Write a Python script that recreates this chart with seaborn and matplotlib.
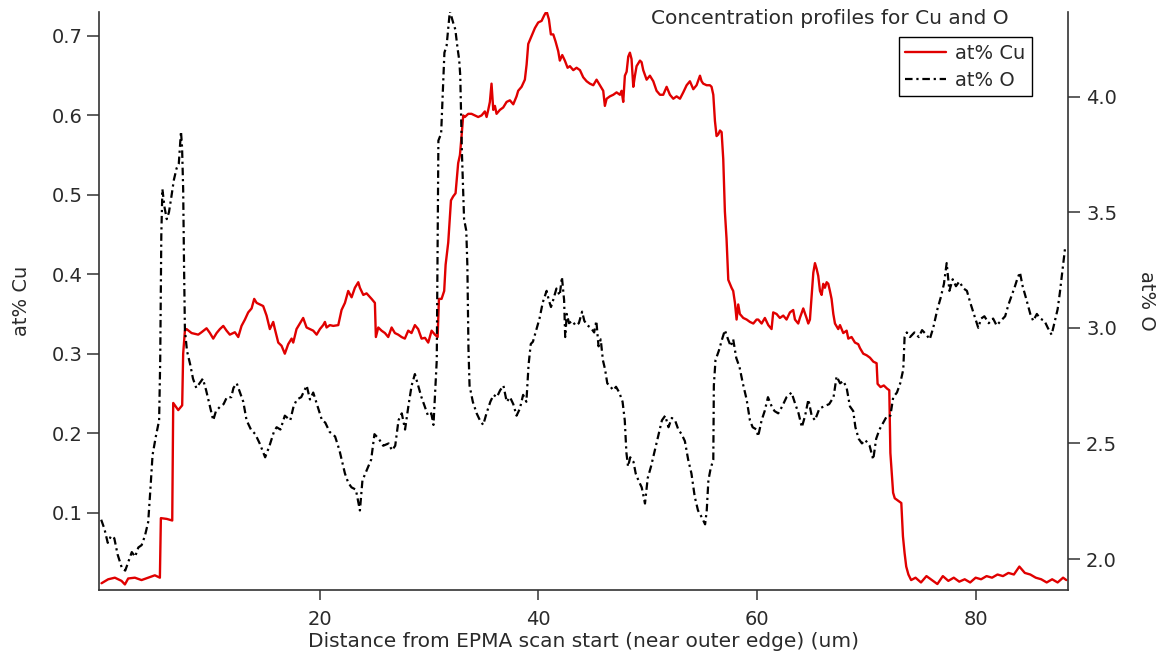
import matplotlib
matplotlib.use("Agg")
import matplotlib.pyplot as plt
import seaborn as sns
import pandas as pd
from matplotlib.ticker import FormatStrFormatter

# ---------------- data ----------------
cu_x = [0.03, 0.64, 1.25, 1.86, 2.17, 2.47, 3.08, 3.69, 4.3, 4.91, 5.37, 5.46, 6.0, 6.5,
        6.59, 7.05, 7.41, 7.5, 7.66, 7.81, 8.27, 8.88, 9.18, 9.64, 9.95, 10.25, 10.56,
        10.86, 11.17, 11.47, 11.77, 12.23, 12.54, 12.84, 13.15, 13.45, 13.76, 14.0, 14.22,
        14.52, 14.82, 15.13, 15.43, 15.74, 15.89, 16.2, 16.5, 16.8, 17.11, 17.42, 17.57,
        17.87, 18.18, 18.48, 18.79, 19.09, 19.4, 19.71, 20.01, 20.31, 20.47, 20.62, 20.92,
        21.23, 21.69, 21.99, 22.3, 22.6, 22.91, 23.21, 23.52, 23.67, 23.98, 24.28, 24.74,
        25.04, 25.13, 25.35, 25.65, 25.96, 26.26, 26.57, 26.87, 27.17, 27.48, 27.78, 28.09,
        28.39, 28.7, 29.0, 29.31, 29.62, 29.92, 30.23, 30.53, 30.78, 30.9, 31.14, 31.38,
        31.51, 31.75, 32.0, 32.2, 32.42, 32.66, 32.82, 32.97, 33.12, 33.27, 33.58, 33.88,
        34.19, 34.49, 34.8, 35.1, 35.26, 35.41, 35.56, 35.71, 35.87, 36.02, 36.17, 36.48,
        36.78, 37.09, 37.39, 37.7, 38.0, 38.15, 38.46, 38.76, 38.92, 39.07, 39.37, 39.68,
        39.98, 40.29, 40.53, 40.75, 40.96, 41.14, 41.36, 41.57, 41.81, 41.96, 42.18, 42.42,
        42.67, 42.88, 43.19, 43.49, 43.8, 44.1, 44.41, 44.71, 45.02, 45.32, 45.63, 45.93,
        46.08, 46.24, 46.54, 46.85, 47.15, 47.46, 47.61, 47.76, 47.91, 48.07, 48.22, 48.37,
        48.52, 48.68, 48.83, 48.98, 49.29, 49.44, 49.59, 49.9, 50.2, 50.51, 50.81, 51.12,
        51.42, 51.73, 52.03, 52.34, 52.64, 52.95, 53.25, 53.56, 53.86, 54.17, 54.47, 54.78,
        54.93, 55.08, 55.39, 55.69, 55.84, 56.0, 56.15, 56.3, 56.45, 56.61, 56.76, 56.91,
        57.06, 57.21, 57.37, 57.52, 57.67, 57.82, 57.98, 58.13, 58.28, 58.43, 58.74, 59.05,
        59.35, 59.66, 59.96, 60.11, 60.42, 60.72, 61.03, 61.33, 61.48, 61.79, 62.09, 62.4,
        62.7, 63.01, 63.31, 63.47, 63.77, 63.92, 64.23, 64.53, 64.69, 64.84, 65.0, 65.15,
        65.3, 65.45, 65.6, 65.76, 65.91, 66.06, 66.21, 66.37, 66.52, 66.67, 66.82, 66.98,
        67.13, 67.43, 67.59, 67.89, 68.2, 68.35, 68.65, 68.96, 69.26, 69.42, 69.72, 70.03,
        70.33, 70.64, 70.94, 71.03, 71.3, 71.6, 71.9, 72.1, 72.2, 72.45, 72.6, 72.9, 73.2,
        73.35, 73.5, 73.65, 73.85, 74.1, 74.5, 75.0, 75.5, 76.0, 76.5, 77.0, 77.5, 78.0,
        78.5, 79.0, 79.5, 80.0, 80.5, 81.0, 81.5, 82.0, 82.5, 83.0, 83.5, 84.0, 84.5, 85.0,
        85.5, 86.0, 86.5, 87.0, 87.5, 88.0, 88.3]
cu_at = [0.011, 0.016, 0.018, 0.014, 0.0095, 0.017, 0.018, 0.015, 0.018, 0.021, 0.018, 0.093,
         0.092, 0.090, 0.238, 0.229, 0.235, 0.300, 0.329, 0.331, 0.326, 0.324, 0.327, 0.332,
         0.326, 0.319, 0.326, 0.331, 0.335, 0.329, 0.324, 0.327, 0.321, 0.335, 0.343, 0.352,
         0.357, 0.369, 0.364, 0.362, 0.360, 0.348, 0.331, 0.340, 0.331, 0.314, 0.310, 0.300,
         0.312, 0.319, 0.314, 0.331, 0.338, 0.345, 0.333, 0.331, 0.329, 0.324, 0.331, 0.336,
         0.340, 0.333, 0.336, 0.335, 0.336, 0.355, 0.364, 0.379, 0.371, 0.383, 0.390, 0.383,
         0.374, 0.376, 0.369, 0.364, 0.321, 0.333, 0.329, 0.326, 0.321, 0.333, 0.326, 0.324,
         0.321, 0.319, 0.329, 0.326, 0.336, 0.331, 0.319, 0.320, 0.314, 0.329, 0.324, 0.321,
         0.369, 0.369, 0.379, 0.412, 0.440, 0.493, 0.498, 0.502, 0.540, 0.550, 0.574, 0.600,
         0.598, 0.602, 0.602, 0.600, 0.598, 0.600, 0.605, 0.598, 0.607, 0.617, 0.640, 0.607,
         0.612, 0.602, 0.607, 0.610, 0.617, 0.619, 0.614, 0.624, 0.631, 0.636, 0.645, 0.664,
         0.690, 0.700, 0.710, 0.717, 0.719, 0.726, 0.731, 0.721, 0.702, 0.702, 0.693, 0.681,
         0.669, 0.676, 0.669, 0.660, 0.662, 0.657, 0.660, 0.657, 0.648, 0.643, 0.640, 0.638,
         0.645, 0.638, 0.631, 0.612, 0.621, 0.624, 0.626, 0.629, 0.626, 0.631, 0.617, 0.650,
         0.655, 0.674, 0.679, 0.671, 0.636, 0.650, 0.662, 0.669, 0.667, 0.657, 0.645, 0.650,
         0.643, 0.631, 0.626, 0.626, 0.636, 0.626, 0.621, 0.624, 0.621, 0.629, 0.638, 0.643,
         0.633, 0.638, 0.650, 0.643, 0.640, 0.638, 0.638, 0.636, 0.626, 0.593, 0.574, 0.576,
         0.581, 0.579, 0.545, 0.479, 0.445, 0.393, 0.388, 0.383, 0.379, 0.364, 0.343, 0.362,
         0.350, 0.345, 0.343, 0.340, 0.338, 0.343, 0.343, 0.338, 0.345, 0.336, 0.331, 0.352,
         0.350, 0.345, 0.348, 0.343, 0.352, 0.355, 0.343, 0.338, 0.345, 0.357, 0.345, 0.338,
         0.343, 0.374, 0.402, 0.414, 0.407, 0.398, 0.379, 0.374, 0.388, 0.383, 0.390, 0.388,
         0.379, 0.369, 0.350, 0.338, 0.331, 0.336, 0.326, 0.329, 0.319, 0.321, 0.314, 0.312,
         0.307, 0.300, 0.298, 0.295, 0.290, 0.288, 0.262, 0.258, 0.260, 0.256, 0.254, 0.175,
         0.125, 0.118, 0.115, 0.112, 0.070, 0.049, 0.032, 0.022, 0.015, 0.018, 0.012, 0.020,
         0.015, 0.010, 0.020, 0.014, 0.018, 0.013, 0.016, 0.012, 0.018, 0.016, 0.020, 0.018,
         0.022, 0.020, 0.024, 0.022, 0.032, 0.024, 0.022, 0.018, 0.016, 0.012, 0.016, 0.012,
         0.018, 0.015]

o_x = [0.0, 0.3, 0.6, 0.9, 1.2, 1.5, 1.9, 2.2, 2.5, 2.8, 3.1, 3.4, 3.7, 4.0, 4.3, 4.5, 4.7,
       5.0, 5.3, 5.4, 5.5, 5.6, 5.8, 6.0, 6.2, 6.4, 6.65, 6.9, 7.1, 7.3, 7.4, 7.5, 7.58,
       7.66, 7.85, 8.15, 8.4, 8.7, 9.0, 9.3, 9.6, 9.95, 10.25, 10.5, 10.9, 11.2, 11.5, 11.9,
       12.1, 12.4, 12.7, 13.0, 13.3, 13.7, 14.1, 14.5, 15.0, 15.4, 15.8, 16.05, 16.4, 16.8,
       17.3, 17.6, 17.9, 18.3, 18.8, 19.1, 19.4, 19.8, 20.2, 20.5, 20.9, 21.4, 21.8, 22.3,
       22.6, 22.9, 23.3, 23.67, 23.9, 24.3, 24.7, 25.0, 25.4, 25.8, 26.3, 26.6, 26.9, 27.2,
       27.5, 27.8, 28.1, 28.4, 28.7, 29.0, 29.3, 29.6, 29.9, 30.2, 30.4, 30.7, 30.85, 31.1,
       31.4, 31.6, 31.9, 32.2, 32.4, 32.6, 32.75, 32.85, 33.0, 33.2, 33.4, 33.5, 33.6, 33.7,
       34.0, 34.35, 34.65, 34.95, 35.25, 35.6, 35.9, 36.2, 36.5, 36.8, 37.1, 37.4, 37.7,
       38.0, 38.3, 38.6, 38.9, 39.1, 39.3, 39.5, 39.8, 40.1, 40.4, 40.75, 40.95, 41.15,
       41.35, 41.65, 41.95, 42.15, 42.35, 42.45, 42.6, 42.8, 43.1, 43.4, 43.7, 44.0, 44.2,
       44.5, 44.8, 45.1, 45.3, 45.5, 45.7, 45.9, 46.1, 46.3, 46.6, 46.85, 47.1, 47.4, 47.7,
       47.9, 48.05, 48.2, 48.4, 48.7, 48.9, 49.15, 49.45, 49.75, 50.0, 50.3, 50.5, 50.75,
       51.0, 51.3, 51.6, 51.9, 52.2, 52.5, 52.8, 53.1, 53.4, 53.7, 54.0, 54.3, 54.6, 54.95,
       55.25, 55.4, 55.55, 55.75, 56.0, 56.05, 56.2, 56.5, 56.8, 57.06, 57.35, 57.6, 57.82,
       58.1, 58.4, 58.7, 59.05, 59.35, 59.6, 59.96, 60.1, 60.42, 60.7, 61.0, 61.34, 61.6,
       61.94, 62.3, 62.7, 63.16, 63.5, 63.8, 64.1, 64.4, 64.7, 65.0, 65.3, 65.7, 66.1, 66.6,
       67.0, 67.28, 67.6, 67.9, 68.2, 68.5, 68.8, 69.0, 69.3, 69.6, 69.9, 70.3, 70.63, 70.9,
       71.2, 71.55, 71.9, 72.2, 72.46, 72.8, 73.1, 73.38, 73.5, 73.7, 74.0, 74.4, 74.8,
       75.1, 75.5, 75.8, 76.12, 76.5, 76.8, 77.1, 77.35, 77.6, 77.9, 78.2, 78.5, 78.9, 79.2,
       79.5, 79.9, 80.24, 80.5, 80.8, 81.2, 81.6, 81.92, 82.3, 82.7, 83.0, 83.3, 83.6, 83.8,
       84.05, 84.3, 84.6, 85.0, 85.27, 85.6, 85.9, 86.3, 86.6, 86.95, 87.2, 87.5, 87.7,
       87.9, 88.17]
o_at = [2.17, 2.13, 2.07, 2.10, 2.09, 2.02, 1.96, 1.95, 1.99, 2.03, 2.01, 2.05, 2.06, 2.10,
        2.16, 2.30, 2.45, 2.53, 2.60, 2.86, 3.40, 3.60, 3.52, 3.47, 3.50, 3.56, 3.64, 3.69,
        3.71, 3.85, 3.78, 3.60, 3.27, 2.99, 2.90, 2.84, 2.78, 2.74, 2.76, 2.78, 2.73, 2.66,
        2.60, 2.64, 2.66, 2.67, 2.70, 2.70, 2.74, 2.76, 2.72, 2.68, 2.60, 2.56, 2.54, 2.50,
        2.44, 2.49, 2.55, 2.57, 2.56, 2.62, 2.60, 2.66, 2.69, 2.70, 2.75, 2.69, 2.72, 2.66,
        2.60, 2.59, 2.55, 2.53, 2.47, 2.37, 2.33, 2.31, 2.30, 2.21, 2.34, 2.385, 2.43, 2.54,
        2.52, 2.49, 2.50, 2.47, 2.49, 2.60, 2.63, 2.56, 2.66, 2.75, 2.80, 2.75, 2.70, 2.66,
        2.62, 2.63, 2.58, 2.86, 3.81, 3.84, 4.19, 4.22, 4.37, 4.32, 4.29, 4.21, 4.16, 4.09,
        3.76, 3.47, 3.42, 3.27, 2.91, 2.75, 2.68, 2.63, 2.60, 2.58, 2.63, 2.68, 2.71, 2.70,
        2.73, 2.75, 2.68, 2.70, 2.67, 2.62, 2.65, 2.71, 2.68, 2.84, 2.93, 2.94, 2.99, 3.04,
        3.11, 3.16, 3.12, 3.09, 3.12, 3.17, 3.14, 3.22, 3.12, 2.96, 3.06, 3.02, 3.03, 3.01,
        3.02, 3.07, 3.03, 3.01, 3.00, 2.98, 3.03, 2.92, 2.95, 2.86, 2.82, 2.76, 2.745, 2.73,
        2.745, 2.72, 2.68, 2.60, 2.46, 2.40, 2.44, 2.42, 2.37, 2.34, 2.31, 2.24, 2.35, 2.40,
        2.44, 2.49, 2.54, 2.60, 2.62, 2.57, 2.61, 2.60, 2.56, 2.54, 2.51, 2.43, 2.37, 2.27,
        2.21, 2.18, 2.15, 2.21, 2.34, 2.39, 2.43, 2.75, 2.86, 2.90, 2.95, 2.99, 2.95, 2.92,
        2.95, 2.87, 2.83, 2.76, 2.69, 2.60, 2.57, 2.56, 2.53, 2.60, 2.64, 2.70, 2.66, 2.64,
        2.63, 2.66, 2.70, 2.72, 2.67, 2.63, 2.57, 2.62, 2.69, 2.62, 2.60, 2.65, 2.66, 2.67,
        2.70, 2.79, 2.76, 2.77, 2.74, 2.66, 2.64, 2.57, 2.52, 2.50, 2.515, 2.49, 2.43, 2.52,
        2.56, 2.59, 2.62, 2.62, 2.70, 2.72, 2.76, 2.82, 2.96, 2.98, 2.96, 2.98, 2.96, 2.99,
        2.97, 2.95, 3.00, 3.08, 3.13, 3.19, 3.28, 3.16, 3.21, 3.18, 3.20, 3.17, 3.16, 3.11,
        3.05, 3.00, 3.04, 3.05, 3.02, 3.04, 3.01, 3.03, 3.05, 3.10, 3.14, 3.18, 3.21, 3.24,
        3.18, 3.13, 3.06, 3.03, 3.06, 3.04, 3.03, 3.00, 2.97, 3.02, 3.08, 3.15, 3.23, 3.34]

series_labels = ["at% Cu", "at% O"]
x_ticks = [20, 40, 60, 80]
cu_ticks = [0.1, 0.2, 0.3, 0.4, 0.5, 0.6, 0.7]
o_ticks = [2.0, 2.5, 3.0, 3.5, 4.0]
title_text = "Concentration profiles for Cu and O"
x_label = "Distance from EPMA scan start (near outer edge) (um)"

# ---------------- figure ----------------
sns.set_style("white")
plt.rcParams["font.family"] = ["DejaVu Sans"]
TXT = "#2a2a2a"
AX = "#333333"
FS = 14
FS_LAB = 14.5

fig = plt.figure(figsize=(11.6, 6.59), dpi=100)
ax = fig.add_axes([99 / 1160, 1 - 590 / 659, (1068 - 99) / 1160, (590 - 12) / 659])
ax2 = ax.twinx()

cu_df = pd.DataFrame({"x": cu_x, "y": cu_at})
o_df = pd.DataFrame({"x": o_x, "y": o_at})

sns.lineplot(data=cu_df, x="x", y="y", ax=ax, color="#e00000", linewidth=1.7,
             estimator=None, sort=False, legend=False)
sns.lineplot(data=o_df, x="x", y="y", ax=ax2, color="black", linewidth=1.6,
             estimator=None, sort=False, legend=False)
ln_cu = ax.lines[0]
ln_o = ax2.lines[0]
ln_o.set_dashes((3.4, 1.7, 1.0, 1.7))

ax.set_xlim(-0.2, 88.45)
ax.set_ylim(0.0025, 0.7302)
ax2.set_ylim(1.866, 4.366)

ax.set_xticks(x_ticks)
ax.set_yticks(cu_ticks)
ax2.set_yticks(o_ticks)
ax.yaxis.set_major_formatter(FormatStrFormatter("%.1f"))
ax2.yaxis.set_major_formatter(FormatStrFormatter("%.1f"))

for s in ["top", "right"]:
    ax.spines[s].set_visible(False)
for s in ["top", "left", "bottom"]:
    ax2.spines[s].set_visible(False)
for sp in [ax.spines["left"], ax.spines["bottom"], ax2.spines["right"]]:
    sp.set_color(AX)
    sp.set_linewidth(1.2)

ax.tick_params(axis="y", direction="out", length=9, width=1.1, color=AX,
               labelsize=FS, labelcolor=TXT, pad=3, left=True)
ax.tick_params(axis="x", direction="out", length=7.5, width=1.1, color=AX,
               labelsize=FS, labelcolor=TXT, pad=7, bottom=True)
ax2.tick_params(axis="y", direction="out", length=8.5, width=1.1, color=AX,
                labelsize=FS, labelcolor=TXT, pad=4.5, right=True)

ax.set_xlabel(x_label, fontsize=FS_LAB, color=TXT, labelpad=2)
ax.set_ylabel(series_labels[0], fontsize=FS, color=TXT, labelpad=15)
ax2.set_ylabel(series_labels[1], fontsize=FS, color=TXT, rotation=270,
               va="bottom", labelpad=14)
ax.grid(False)
ax2.grid(False)

leg = ax2.legend([ln_cu, ln_o], series_labels, loc="upper right",
                 bbox_to_anchor=((1032 - 99) / (1068 - 99), (590 - 37) / (590 - 12)),
                 borderaxespad=0, frameon=True, fancybox=False, framealpha=1,
                 edgecolor="black", fontsize=FS, handlelength=2.1,
                 handletextpad=0.45, labelspacing=0.4, borderpad=0.35)
leg.get_frame().set_linewidth(1.0)
for t in leg.get_texts():
    t.set_color(TXT)

fig.text(1009 / 1160, 1 - 18 / 659, title_text, ha="right", va="center",
         fontsize=FS_LAB, color=TXT)

fig.savefig("out.png", dpi=100)
